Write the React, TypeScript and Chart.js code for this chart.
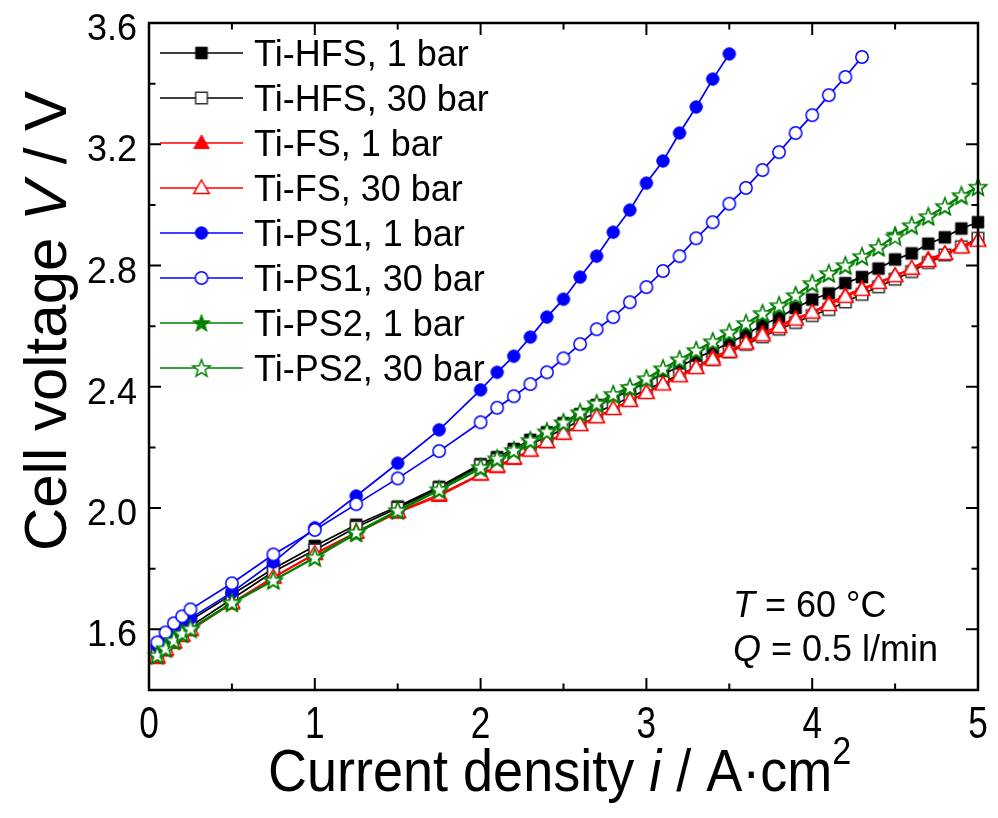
import React, { useEffect, useRef } from 'react';
import { Chart, registerables } from 'chart.js';

Chart.register(...registerables);

// ---------- data ----------
const currentDensity = [0.05, 0.1, 0.15, 0.2, 0.25, 0.5, 0.75, 1.0, 1.25, 1.5, 1.75, 2.0,
  2.1, 2.2, 2.3, 2.4, 2.5, 2.6, 2.7, 2.8, 2.9, 3.0, 3.1, 3.2, 3.3, 3.4, 3.5,
  3.6, 3.7, 3.8, 3.9, 4.0, 4.1, 4.2, 4.3, 4.4, 4.5, 4.6, 4.7, 4.8, 4.9, 5.0];

const currentDensityPS1_1bar = [0.05, 0.1, 0.15, 0.2, 0.25, 0.5, 0.75, 1.0, 1.25, 1.5, 1.75, 2.0,
  2.1, 2.2, 2.3, 2.4, 2.5, 2.6, 2.7, 2.8, 2.9, 3.0, 3.1, 3.2, 3.3, 3.4, 3.5];

const currentDensityPS1_30bar = [0.05, 0.1, 0.15, 0.2, 0.25, 0.5, 0.75, 1.0, 1.25, 1.5, 1.75, 2.0,
  2.1, 2.2, 2.3, 2.4, 2.5, 2.6, 2.7, 2.8, 2.9, 3.0, 3.1, 3.2, 3.3, 3.4, 3.5,
  3.6, 3.7, 3.8, 3.9, 4.0, 4.1, 4.2, 4.3];

const hfs1bar = [1.53, 1.56, 1.585, 1.61, 1.63, 1.715, 1.80, 1.875, 1.945, 2.005, 2.07, 2.145,
  2.168, 2.195, 2.225, 2.25, 2.28, 2.31, 2.34, 2.362, 2.388, 2.415, 2.442, 2.466, 2.495, 2.518, 2.545,
  2.572, 2.605, 2.628, 2.66, 2.688, 2.708, 2.742, 2.762, 2.79, 2.82, 2.84, 2.872, 2.893, 2.922, 2.943];

const hfs30bar = [1.52, 1.545, 1.57, 1.59, 1.61, 1.70, 1.79, 1.862, 1.937, 2.0, 2.065, 2.14,
  2.16, 2.185, 2.21, 2.235, 2.26, 2.29, 2.315, 2.34, 2.365, 2.39, 2.415, 2.44, 2.465, 2.49, 2.515,
  2.54, 2.565, 2.59, 2.612, 2.635, 2.655, 2.68, 2.705, 2.73, 2.755, 2.78, 2.81, 2.835, 2.862, 2.89];

const fs1bar = [1.505, 1.53, 1.555, 1.578, 1.597, 1.685, 1.77, 1.848, 1.918, 1.985, 2.04, 2.11,
  2.135, 2.162, 2.19, 2.217, 2.245, 2.275, 2.3, 2.328, 2.355, 2.382, 2.41, 2.437, 2.465, 2.498, 2.52,
  2.547, 2.577, 2.603, 2.626, 2.646, 2.676, 2.702, 2.725, 2.745, 2.768, 2.79, 2.822, 2.84, 2.864, 2.884];

const fs30bar = [1.51, 1.535, 1.558, 1.58, 1.6, 1.688, 1.772, 1.85, 1.92, 1.988, 2.045, 2.112,
  2.138, 2.165, 2.19, 2.218, 2.246, 2.274, 2.3, 2.327, 2.354, 2.38, 2.408, 2.435, 2.462, 2.49, 2.516,
  2.543, 2.57, 2.597, 2.622, 2.645, 2.67, 2.697, 2.72, 2.743, 2.765, 2.79, 2.815, 2.838, 2.86, 2.882];

const ps1_1bar = [1.545, 1.572, 1.598, 1.618, 1.637, 1.722, 1.822, 1.935, 2.04, 2.148, 2.258, 2.39,
  2.448, 2.501, 2.564, 2.63, 2.689, 2.762, 2.831, 2.91, 2.983, 3.072, 3.145, 3.237, 3.323, 3.415, 3.498];

const ps1_30bar = [1.557, 1.59, 1.62, 1.643, 1.666, 1.752, 1.847, 1.928, 2.013, 2.098, 2.188, 2.283,
  2.331, 2.369, 2.409, 2.448, 2.494, 2.541, 2.59, 2.63, 2.679, 2.729, 2.782, 2.831, 2.89, 2.943, 3.004,
  3.056, 3.115, 3.174, 3.237, 3.296, 3.362, 3.422, 3.488];

const ps2_1bar = [1.512, 1.535, 1.56, 1.583, 1.6, 1.685, 1.76, 1.835, 1.915, 1.99, 2.058, 2.13,
  2.16, 2.188, 2.22, 2.25, 2.28, 2.312, 2.342, 2.372, 2.395, 2.425, 2.458, 2.488, 2.518, 2.548, 2.577,
  2.607, 2.64, 2.666, 2.70, 2.738, 2.772, 2.798, 2.828, 2.858, 2.902, 2.93, 2.96, 2.993, 3.028, 3.058];

const ps2_30bar = [1.515, 1.537, 1.564, 1.587, 1.603, 1.689, 1.762, 1.838, 1.921, 1.993, 2.062, 2.135,
  2.164, 2.191, 2.224, 2.253, 2.283, 2.316, 2.346, 2.376, 2.399, 2.428, 2.461, 2.491, 2.521, 2.55, 2.58,
  2.61, 2.643, 2.669, 2.702, 2.742, 2.775, 2.801, 2.831, 2.861, 2.895, 2.933, 2.963, 2.996, 3.032, 3.06];

const seriesLabels = [
  'Ti-HFS, 1 bar', 'Ti-HFS, 30 bar', 'Ti-FS, 1 bar', 'Ti-FS, 30 bar',
  'Ti-PS1, 1 bar', 'Ti-PS1, 30 bar', 'Ti-PS2, 1 bar', 'Ti-PS2, 30 bar',
];

const xMajorTicks = [0, 1, 2, 3, 4, 5];
const xMinorTicks = [0.5, 1.5, 2.5, 3.5, 4.5];
const yMajorTicks = [1.6, 2.0, 2.4, 2.8, 3.2, 3.6];
const yMinorTicks = [1.4, 1.8, 2.2, 2.6, 3.0, 3.4];

// ---------- styles ----------
const BLACK = '#000000';
const RED = '#ff0000';
const BLUE = '#0000ff';
const GREEN = '#008000';
const FONT = '"Liberation Sans", Arial, sans-serif';

type Shape = 'square' | 'triangle' | 'circle' | 'star';

function makeMarker(shape: Shape, filled: boolean, color: string, edge?: string) {
  const size = 24;
  const c = document.createElement('canvas');
  c.width = size;
  c.height = size;
  const ctx = c.getContext('2d')!;
  const cx = size / 2;
  const cy = size / 2;
  ctx.beginPath();
  if (shape === 'square') {
    const s = 5.8;
    ctx.rect(cx - s, cy - s, 2 * s, 2 * s);
  } else if (shape === 'triangle') {
    ctx.moveTo(cx, cy - 8);
    ctx.lineTo(cx + 7.8, cy + 5.6);
    ctx.lineTo(cx - 7.8, cy + 5.6);
    ctx.closePath();
  } else if (shape === 'circle') {
    ctx.arc(cx, cy, 6.2, 0, Math.PI * 2);
  } else {
    const ro = 9.2;
    const ri = 3.8;
    for (let k = 0; k < 10; k++) {
      const r = k % 2 === 0 ? ro : ri;
      const a = -Math.PI / 2 + (k * Math.PI) / 5;
      const px = cx + r * Math.cos(a);
      const py = cy + 0.8 + r * Math.sin(a);
      if (k === 0) ctx.moveTo(px, py);
      else ctx.lineTo(px, py);
    }
    ctx.closePath();
  }
  ctx.fillStyle = filled ? color : '#ffffff';
  ctx.fill();
  ctx.lineWidth = filled ? 1 : 1.5;
  ctx.strokeStyle = edge || color;
  ctx.stroke();
  return c;
}

type Part = { t: string; font: string; dy?: number };

function drawMixed(ctx: CanvasRenderingContext2D, parts: Part[], x: number, y: number) {
  let cx = x;
  for (const p of parts) {
    ctx.font = p.font;
    ctx.fillText(p.t, cx, y + (p.dy || 0));
    cx += ctx.measureText(p.t).width;
  }
  return cx - x;
}

function measureMixed(ctx: CanvasRenderingContext2D, parts: Part[]) {
  let w = 0;
  for (const p of parts) {
    ctx.font = p.font;
    w += ctx.measureText(p.t).width;
  }
  return w;
}

const decorPlugin = {
  id: 'decor',
  afterDraw(chart: any) {
    const ctx: CanvasRenderingContext2D = chart.ctx;
    const { left, right, top, bottom } = chart.chartArea;
    const xs = chart.scales.x;
    const ys = chart.scales.y;
    ctx.save();
    // frame
    ctx.strokeStyle = BLACK;
    ctx.lineWidth = 2.5;
    ctx.strokeRect(left, top, right - left, bottom - top);
    ctx.lineWidth = 2;
    const major = 12;
    const minor = 6.5;
    ctx.beginPath();
    for (const v of xMajorTicks) {
      const p = xs.getPixelForValue(v);
      ctx.moveTo(p, bottom); ctx.lineTo(p, bottom - major);
      ctx.moveTo(p, top); ctx.lineTo(p, top + major);
    }
    for (const v of xMinorTicks) {
      const p = xs.getPixelForValue(v);
      ctx.moveTo(p, bottom); ctx.lineTo(p, bottom - minor);
      ctx.moveTo(p, top); ctx.lineTo(p, top + minor);
    }
    for (const v of yMajorTicks) {
      const p = ys.getPixelForValue(v);
      ctx.moveTo(left, p); ctx.lineTo(left + major, p);
      ctx.moveTo(right, p); ctx.lineTo(right - major, p);
    }
    for (const v of yMinorTicks) {
      const p = ys.getPixelForValue(v);
      ctx.moveTo(left, p); ctx.lineTo(left + minor, p);
      ctx.moveTo(right, p); ctx.lineTo(right - minor, p);
    }
    ctx.stroke();

    ctx.fillStyle = BLACK;
    ctx.textBaseline = 'alphabetic';

    // y tick labels (from the scale's ticks)
    ctx.textAlign = 'right';
    ctx.font = `36px ${FONT}`;
    for (const t of ys.ticks) {
      const p = ys.getPixelForValue(t.value);
      ctx.fillText(Number(t.value).toFixed(1), left - 12, p + 17);
    }
    // x tick labels (narrow, as in the original)
    ctx.textAlign = 'center';
    ctx.font = `44px ${FONT}`;
    for (const t of xs.ticks) {
      const p = xs.getPixelForValue(t.value);
      ctx.save();
      ctx.translate(p, bottom + 48);
      ctx.scale(0.8, 1);
      ctx.fillText(String(t.value), 0, 0);
      ctx.restore();
    }

    // legend
    ctx.textAlign = 'left';
    chart.data.datasets.forEach((ds: any, i: number) => {
      const ry = 53 + i * 45;
      ctx.strokeStyle = ds.borderColor;
      ctx.lineWidth = 1.5;
      ctx.beginPath();
      ctx.moveTo(160, ry);
      ctx.lineTo(243, ry);
      ctx.stroke();
      const img = ds.pointStyle as HTMLCanvasElement;
      ctx.drawImage(img, 201.5 - img.width / 2, ry - img.height / 2);
      ctx.font = `36px ${FONT}`;
      ctx.fillText(ds.label, 254, ry + 12.5);
    });

    // annotation
    drawMixed(ctx, [
      { t: 'T', font: `italic 36px ${FONT}` },
      { t: ' = 60 °C', font: `36px ${FONT}` },
    ], 733, 617);
    drawMixed(ctx, [
      { t: 'Q', font: `italic 36px ${FONT}` },
      { t: ' = 0.5 l/min', font: `36px ${FONT}` },
    ], 733, 661);

    // x title (narrow)
    ctx.save();
    ctx.translate(268, 791);
    ctx.scale(0.9, 1);
    drawMixed(ctx, [
      { t: 'Current density ', font: `60px ${FONT}` },
      { t: 'i', font: `italic 60px ${FONT}` },
      { t: ' / A·cm', font: `60px ${FONT}` },
      { t: '2', font: `38px ${FONT}`, dy: -27 },
    ], 0, 0);
    ctx.restore();

    // y title
    const yParts: Part[] = [
      { t: 'Cell voltage ', font: `60px ${FONT}` },
      { t: 'V', font: `italic 60px ${FONT}` },
      { t: ' / V', font: `60px ${FONT}` },
    ];
    ctx.translate(66, 321);
    ctx.rotate(-Math.PI / 2);
    const w = measureMixed(ctx, yParts);
    drawMixed(ctx, yParts, -w / 2, 0);
    ctx.restore();
  },
};

export default function App() {
  const ref = useRef<HTMLCanvasElement | null>(null);
  useEffect(() => {
    if (!ref.current) return;
    const mk = (idx: number, xs: number[], ys: number[], color: string, shape: Shape, filled: boolean, edge?: string) => ({
      label: seriesLabels[idx],
      data: xs.map((x, i) => ({ x, y: ys[i] })),
      borderColor: color,
      backgroundColor: color,
      borderWidth: 1.7,
      showLine: true,
      tension: 0,
      fill: false,
      pointStyle: makeMarker(shape, filled, color, edge),
      pointRadius: 8,
      pointHoverRadius: 8,
      clip: false as any,
      order: 8 - idx,
    });
    const datasets = [
      mk(0, currentDensity, hfs1bar, BLACK, 'square', true),
      mk(1, currentDensity, hfs30bar, BLACK, 'square', false, '#333333'),
      mk(2, currentDensity, fs1bar, RED, 'triangle', true),
      mk(3, currentDensity, fs30bar, RED, 'triangle', false),
      mk(4, currentDensityPS1_1bar, ps1_1bar, BLUE, 'circle', true),
      mk(5, currentDensityPS1_30bar, ps1_30bar, BLUE, 'circle', false),
      mk(6, currentDensity, ps2_1bar, GREEN, 'star', true),
      mk(7, currentDensity, ps2_30bar, GREEN, 'star', false),
    ];
    const chart = new Chart(ref.current, {
      type: 'scatter',
      data: { datasets },
      options: {
        responsive: false,
        animation: false,
        events: [],
        layout: { padding: { top: 23, right: 20, left: 0, bottom: 0 } },
        plugins: { legend: { display: false }, tooltip: { enabled: false }, title: { display: false } },
        scales: {
          x: {
            type: 'linear',
            min: 0,
            max: 5,
            grid: { display: false, drawTicks: false },
            border: { display: false },
            afterBuildTicks: (scale: any) => { scale.ticks = xMajorTicks.map((v) => ({ value: v })); },
            afterFit: (scale: any) => { scale.height = 128; },
            ticks: { display: false },
          },
          y: {
            type: 'linear',
            min: 1.4,
            max: 3.6,
            grid: { display: false, drawTicks: false },
            border: { display: false },
            afterBuildTicks: (scale: any) => { scale.ticks = yMajorTicks.map((v) => ({ value: v })); },
            afterFit: (scale: any) => { scale.width = 149; },
            ticks: { display: false },
          },
        },
      },
      plugins: [decorPlugin],
    });
    return () => chart.destroy();
  }, []);
  return (
    <div style={{ position: 'absolute', left: 0, top: 0, width: 998, height: 818, background: '#fff' }}>
      <canvas ref={ref} width={998} height={818} style={{ display: 'block' }} />
    </div>
  );
}
